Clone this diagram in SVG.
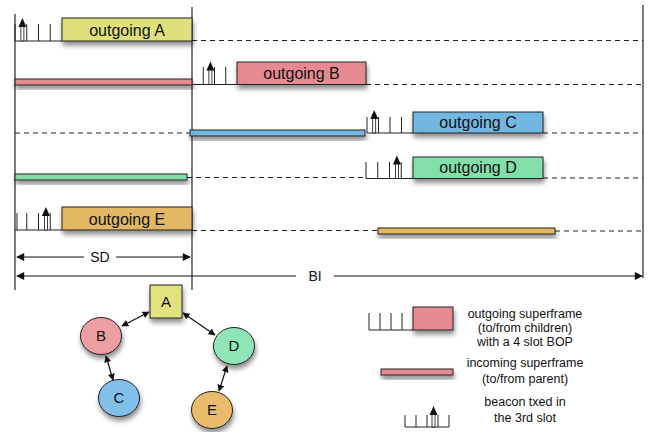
<svg xmlns="http://www.w3.org/2000/svg" width="662" height="432" viewBox="0 0 662 432">
<style>
text{font-family:"Liberation Sans",Arial,sans-serif;fill:#111}
.lbl{font-size:16px;text-anchor:middle}
.leg{font-size:12.5px;text-anchor:middle}
.node{font-size:15px;text-anchor:middle}
.box{stroke:#222;stroke-width:1;filter:url(#sh)}
.vl{stroke:#333;stroke-width:1.3;fill:none}
.dash{stroke:#222;stroke-width:1;stroke-dasharray:5 4;fill:none}
.tick{stroke:#222;stroke-width:1;fill:none}
.edge{stroke:#111;stroke-width:1.2;fill:none;marker-start:url(#ah);marker-end:url(#ah)}
.dim{stroke:#111;stroke-width:1;fill:none;marker-start:url(#dh);marker-end:url(#dh)}
</style>
<defs>
<filter id="sh" x="-20%" y="-40%" width="140%" height="220%">
<feDropShadow dx="1" dy="4" stdDeviation="2.5" flood-color="#000" flood-opacity="0.45"/>
</filter>
<marker id="ah" viewBox="0 0 10 10" refX="9" refY="5" markerWidth="7" markerHeight="7" markerUnits="userSpaceOnUse" orient="auto-start-reverse">
<path d="M0,0 L10,5 L0,10 z" fill="#111"/>
</marker>
<marker id="dh" viewBox="0 0 10 10" refX="9" refY="5" markerWidth="11" markerHeight="8" markerUnits="userSpaceOnUse" orient="auto-start-reverse">
<path d="M0,0 L10,5 L0,10 z" fill="#111"/>
</marker>
<g id="bcn">
<rect x="-1.5" y="-15" width="3" height="15" fill="#fff" stroke="#111" stroke-width="0.8"/>
<path d="M-4,-14 L0,-23 L4,-14 z" fill="#111"/>
</g>
<g id="bcnS">
<rect x="-1.5" y="-13" width="3" height="13" fill="#fff" stroke="#111" stroke-width="0.8"/>
<path d="M-4,-12 L0,-21 L4,-12 z" fill="#111"/>
</g>
</defs>
<rect width="662" height="432" fill="#fff"/>

<!-- timeline verticals -->
<g id="timeline">
<line class="vl" x1="15" y1="14" x2="15" y2="290"/>
<line class="vl" x1="192" y1="7" x2="192" y2="290"/>
<line class="vl" x1="643" y1="5" x2="643" y2="278"/>
</g>

<!-- dashed lines -->
<g id="dashes">
<line class="dash" x1="192" y1="40.5" x2="643" y2="40.5"/>
<line class="dash" x1="366" y1="84.5" x2="643" y2="84.5"/>
<line class="dash" x1="15" y1="133" x2="190" y2="133"/>
<line class="dash" x1="543" y1="133" x2="643" y2="133"/>
<line class="dash" x1="187" y1="177.5" x2="366" y2="177.5"/>
<line class="dash" x1="543" y1="178" x2="643" y2="178"/>
<line class="dash" x1="192" y1="230.5" x2="378" y2="230.5"/>
<line class="dash" x1="555" y1="231" x2="643" y2="231"/>
</g>

<!-- row A -->
<g id="rowA">
<path class="tick" d="M15,41 H62 M15,24 V41 M26.75,24 V41 M38.5,24 V41 M50.25,24 V41"/>
<use href="#bcn" x="22.4" y="41"/>
<rect class="box" x="62" y="18" width="130" height="23" fill="#dfe07c"/>
<text class="lbl" x="127" y="35.5">outgoing A</text>
</g>

<!-- row B -->
<g id="rowB">
<rect class="box" x="15" y="79" width="177" height="6" fill="#e68a92"/>
<path class="tick" d="M192,84.5 H237 M203.25,67 V84.5 M214.5,67 V84.5 M225.75,67 V84.5"/>
<use href="#bcn" x="210.4" y="84.5"/>
<rect class="box" x="237" y="62" width="129" height="22.5" fill="#e68a92"/>
<text class="lbl" x="301.5" y="79">outgoing B</text>
</g>

<!-- row C -->
<g id="rowC">
<rect class="box" x="190" y="130" width="175" height="6" fill="#72b6e2"/>
<path class="tick" d="M367,133 H413 M367,117 V133 M378.5,117 V133 M390,117 V133 M401.5,117 V133"/>
<use href="#bcn" x="374.2" y="133"/>
<rect class="box" x="413" y="112" width="130" height="21" fill="#72b6e2"/>
<text class="lbl" x="478" y="128">outgoing C</text>
</g>

<!-- row D -->
<g id="rowD">
<rect class="box" x="15" y="174" width="172" height="6" fill="#82dfaa"/>
<path class="tick" d="M366,178.5 H413 M366,162 V178.5 M377.75,162 V178.5 M389.5,162 V178.5 M401.25,162 V178.5"/>
<use href="#bcn" x="396.9" y="178.5"/>
<rect class="box" x="413" y="157" width="130" height="21.5" fill="#82dfaa"/>
<text class="lbl" x="478" y="173">outgoing D</text>
</g>

<!-- row E -->
<g id="rowE">
<path class="tick" d="M15,230 H62 M17,213 V230 M26.75,213 V230 M38.5,213 V230 M50.25,213 V230"/>
<use href="#bcn" x="45.9" y="230"/>
<rect class="box" x="62" y="207" width="130" height="23" fill="#e2b865"/>
<text class="lbl" x="127" y="224.5">outgoing E</text>
<rect class="box" x="378" y="228" width="177" height="6" fill="#e2b865"/>
</g>

<!-- SD / BI -->
<g id="dims">
<line class="dim" x1="17" y1="257" x2="84" y2="257" style="marker-end:none"/>
<line class="dim" x1="116" y1="257" x2="190" y2="257" style="marker-start:none"/>
<text x="100" y="262" style="font-size:14px;text-anchor:middle">SD</text>
<line class="dim" x1="17" y1="276" x2="296" y2="276" style="marker-end:none"/>
<line class="dim" x1="334" y1="276" x2="642" y2="276" style="marker-start:none"/>
<text x="315" y="281" style="font-size:14px;text-anchor:middle">BI</text>
</g>

<!-- tree nodes -->
<g id="nodeA">
<rect class="box" x="150" y="285" width="32" height="33" fill="#e2e37f"/>
<text class="node" x="166" y="307">A</text>
</g>
<g id="nodeB">
<ellipse class="box" cx="101" cy="336" rx="20.5" ry="18.5" fill="#ec9ea3"/>
<text class="node" x="101" y="341">B</text>
</g>
<g id="nodeC">
<ellipse class="box" cx="119" cy="398" rx="20.5" ry="18.5" fill="#80c0ea"/>
<text class="node" x="119" y="403">C</text>
</g>
<g id="nodeD">
<ellipse class="box" cx="234" cy="346" rx="20.5" ry="18.5" fill="#8fe5b6"/>
<text class="node" x="234" y="351">D</text>
</g>
<g id="nodeE">
<ellipse class="box" cx="212" cy="410" rx="20.5" ry="18.5" fill="#e9bc6c"/>
<text class="node" x="212" y="415">E</text>
</g>

<!-- connectors -->
<g id="connectors">
<line class="edge" x1="149" y1="312" x2="122" y2="326"/>
<line class="edge" x1="183" y1="313" x2="215" y2="335"/>
<line class="edge" x1="106" y1="356" x2="113" y2="380"/>
<line class="edge" x1="227" y1="366" x2="219" y2="391"/>
</g>

<!-- legend -->
<g id="legend">
<path class="tick" d="M369,330 H413 M369,313 V330 M380,313 V330 M391,313 V330 M402,313 V330"/>
<rect class="box" x="413" y="307" width="40" height="23" fill="#e68a92"/>
<rect class="box" x="381" y="369" width="72" height="6" fill="#e68a92"/>
<path class="tick" d="M405,427 H449 M405,415 V427 M416,415 V427 M427,415 V427 M438,415 V427 M449,415 V427"/>
<use href="#bcnS" x="433.5" y="427"/>
<text class="leg" x="525" y="318">outgoing superframe</text>
<text class="leg" x="525" y="332">(to/from children)</text>
<text class="leg" x="525" y="346">with a 4 slot BOP</text>
<text class="leg" x="525" y="367">incoming superframe</text>
<text class="leg" x="525" y="383">(to/from parent)</text>
<text class="leg" x="525" y="406">beacon txed in</text>
<text class="leg" x="525" y="422">the 3rd slot</text>
</g>
</svg>
